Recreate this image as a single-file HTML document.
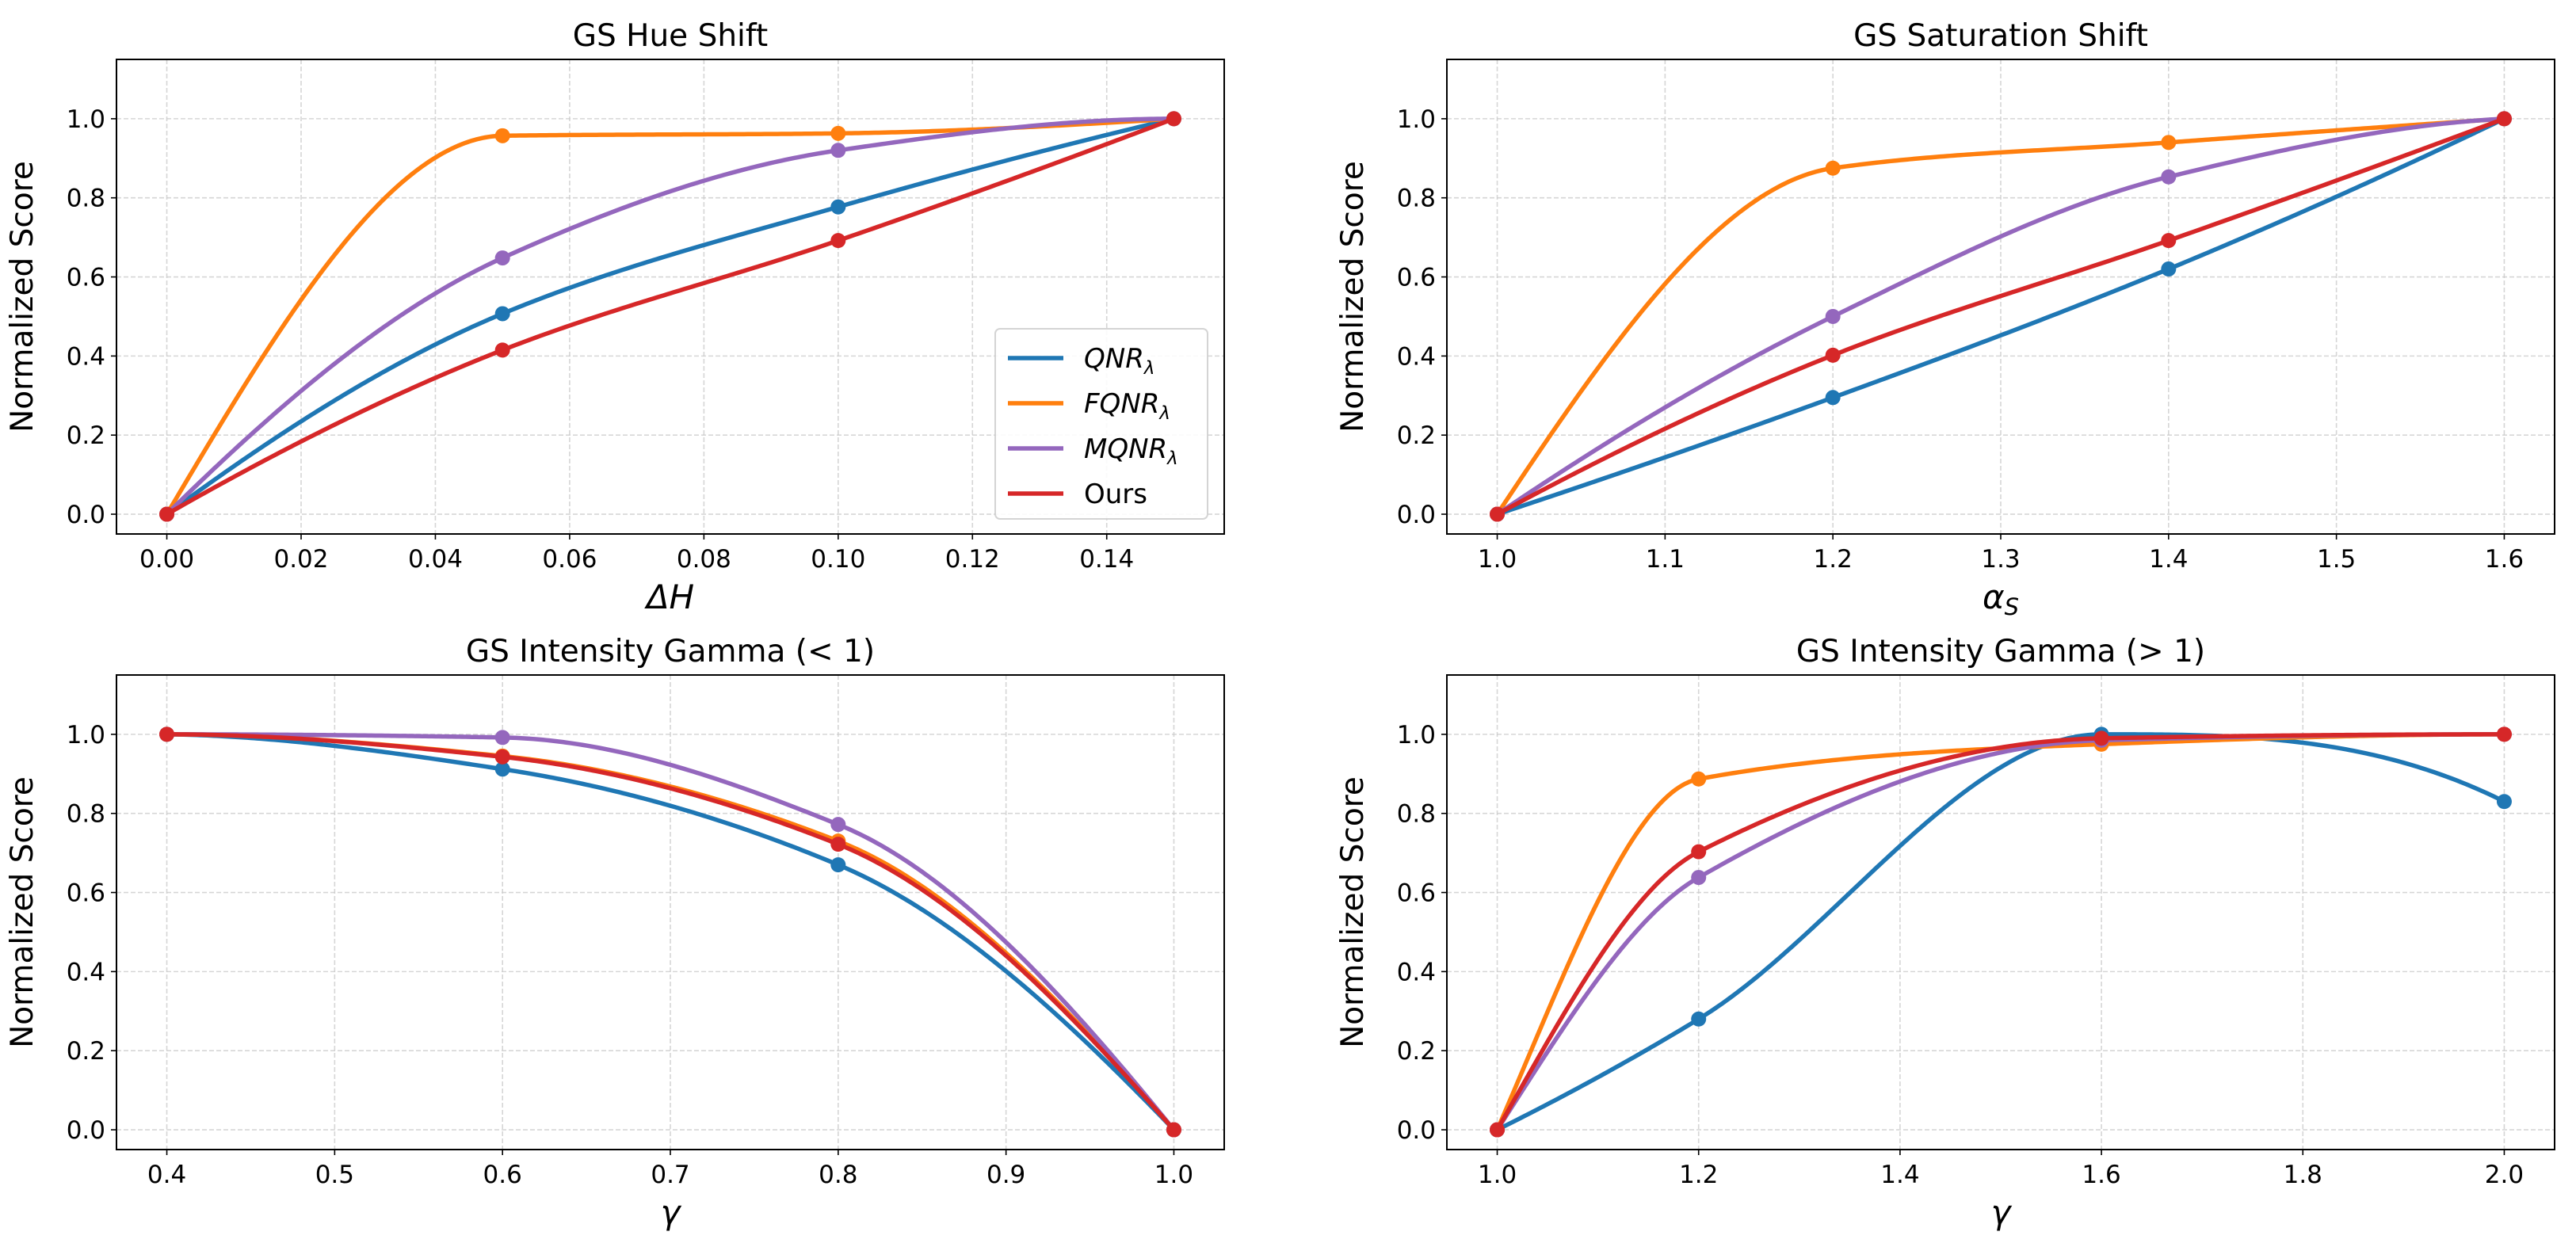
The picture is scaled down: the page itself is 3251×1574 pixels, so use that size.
<!DOCTYPE html>
<html><head><meta charset="utf-8"><style>
html,body{margin:0;padding:0;background:#fff}
svg{display:block}
text{font-family:"DejaVu Sans","Liberation Sans",sans-serif;fill:#000}
</style></head><body>
<svg id="fig" width="3251" height="1574" viewBox="0 0 3251 1574" xmlns="http://www.w3.org/2000/svg"></svg>
<script>
const seriesNames = ["QNR", "FQNR", "MQNR", "Ours"];
const seriesColors = ["#1f77b4", "#ff7f0e", "#9467bd", "#d62728"];
const hueX = [0, 0.05, 0.10, 0.15];
const hueQNR = [0, 0.507, 0.777, 1];
const hueFQNR = [0, 0.957, 0.963, 1];
const hueMQNR = [0, 0.648, 0.920, 1];
const hueOurs = [0, 0.415, 0.692, 1];
const satX = [1.0, 1.2, 1.4, 1.6];
const satQNR = [0, 0.295, 0.620, 1];
const satFQNR = [0, 0.875, 0.940, 1];
const satMQNR = [0, 0.500, 0.853, 1];
const satOurs = [0, 0.402, 0.692, 1];
const gLowX = [0.4, 0.6, 0.8, 1.0];
const gLowQNR = [1, 0.912, 0.670, 0];
const gLowFQNR = [1, 0.945, 0.730, 0];
const gLowMQNR = [1, 0.992, 0.772, 0];
const gLowOurs = [1, 0.943, 0.722, 0];
const gHighX = [1.0, 1.2, 1.6, 2.0];
const gHighQNR = [0, 0.280, 1.000, 0.830];
const gHighFQNR = [0, 0.887, 0.975, 1];
const gHighMQNR = [0, 0.638, 0.985, 1];
const gHighOurs = [0, 0.703, 0.990, 1];
const hueTicks = ["0.00","0.02","0.04","0.06","0.08","0.10","0.12","0.14"];
const satTicks = ["1.0","1.1","1.2","1.3","1.4","1.5","1.6"];
const gLowTicks = ["0.4","0.5","0.6","0.7","0.8","0.9","1.0"];
const gHighTicks = ["1.0","1.2","1.4","1.6","1.8","2.0"];
const yTicks = ["0.0","0.2","0.4","0.6","0.8","1.0"];

const NS = "http://www.w3.org/2000/svg";
const fig = document.getElementById("fig");
function mk(tag, attrs, parent) {
  const e = document.createElementNS(NS, tag);
  for (const k in attrs) e.setAttribute(k, attrs[k]);
  (parent || fig).appendChild(e);
  return e;
}
function pchip(x, y) {
  const n = x.length, h = [], d = [], m = new Array(n).fill(0);
  for (let i = 0; i < n - 1; i++) { h.push(x[i+1]-x[i]); d.push((y[i+1]-y[i])/h[i]); }
  for (let i = 1; i < n - 1; i++) {
    if (d[i-1]*d[i] <= 0) m[i] = 0;
    else { const w1 = 2*h[i]+h[i-1], w2 = h[i]+2*h[i-1]; m[i] = (w1+w2)/(w1/d[i-1]+w2/d[i]); }
  }
  function endSlope(h0,h1,d0,d1){ let s=((2*h0+h1)*d0-h0*d1)/(h0+h1);
    if (Math.sign(s)!==Math.sign(d0)) s=0; else if (Math.sign(d0)!==Math.sign(d1) && Math.abs(s)>Math.abs(3*d0)) s=3*d0; return s; }
  m[0] = endSlope(h[0],h[1],d[0],d[1]);
  m[n-1] = endSlope(h[n-2],h[n-3],d[n-2],d[n-3]);
  return function(t) {
    let i = 0; while (i < n - 2 && t > x[i+1]) i++;
    const hh = h[i], s = (t - x[i]) / hh;
    const h00 = 2*s*s*s-3*s*s+1, h10 = s*s*s-2*s*s+s, h01 = -2*s*s*s+3*s*s, h11 = s*s*s-s*s;
    return h00*y[i]+h10*hh*m[i]+h01*y[i+1]+h11*hh*m[i+1];
  };
}
function panel(cfg) {
  const g = mk("g", {});
  
  
  const L = cfg.L, R = cfg.R, T = cfg.T, B = cfg.B;
  const xr = cfg.xmax - cfg.xmin, xlo = cfg.xmin - 0.05*xr, xhi = cfg.xmax + 0.05*xr;
  const sx = v => L + (v - xlo) / (xhi - xlo) * (R - L);
  const sy = v => B - (v + 0.05) / 1.2 * (B - T);
  const gridG = mk("g", {}, g);
  
  
  cfg.xticks.forEach(t => {
    const X = sx(parseFloat(t));
    mk("line", {x1:X,x2:X,y1:T,y2:B,stroke:"#cccccc","stroke-width":1.6,"stroke-dasharray":"6,3",opacity:0.8}, gridG);
    mk("line", {x1:X,x2:X,y1:B,y2:B+7,stroke:"#000","stroke-width":1.6}, g);
    const tx = mk("text", {x:X,y:B+42,"font-size":31,"text-anchor":"middle"}, g);
    tx.textContent = t;
    
    
  });
  yTicks.forEach(t => {
    const Y = sy(parseFloat(t));
    mk("line", {x1:L,x2:R,y1:Y,y2:Y,stroke:"#cccccc","stroke-width":1.6,"stroke-dasharray":"6,3",opacity:0.8}, gridG);
    mk("line", {x1:L-7,x2:L,y1:Y,y2:Y,stroke:"#000","stroke-width":1.6}, g);
    const tx = mk("text", {x:L-14,y:Y+11,"font-size":31,"text-anchor":"end"}, g);
    tx.textContent = t;
    
    
  });
  cfg.series.forEach((ys, k) => {
    const f = pchip(cfg.x, ys);
    let d = "";
    for (let i = 0; i <= 300; i++) {
      const t = cfg.x[0] + (cfg.x[cfg.x.length-1]-cfg.x[0]) * i / 300;
      d += (i ? "L" : "M") + sx(t).toFixed(2) + "," + sy(f(t)).toFixed(2);
    }
    const p = mk("path", {d:d,fill:"none",stroke:seriesColors[k],"stroke-width":5.5,"stroke-linejoin":"round"}, g);
    
    
    cfg.x.forEach((xv, i) => {
      const c = mk("circle", {cx:sx(xv),cy:sy(ys[i]),r:9.5,fill:seriesColors[k]}, g);
      
      
    });
  });
  const frame = mk("rect", {x:L,y:T,width:R-L,height:B-T,fill:"none",stroke:"#000","stroke-width":2}, g);
  
  
  const title = mk("text", {x:(L+R)/2,y:T-17,"font-size":39,"text-anchor":"middle"}, g);
  title.textContent = cfg.title;
  
  
  const yl = mk("text", {x:0,y:0,"font-size":39,"text-anchor":"middle",transform:`translate(${L-106},${(T+B)/2}) rotate(-90)`}, g);
  yl.textContent = "Normalized Score";
  
  
  const xl = mk("text", {x:(L+R)/2,y:B+94,"font-size":42,"text-anchor":"middle","font-style":"italic"}, g);
  xl.innerHTML = cfg.xlabel;
  
  
  return {sx, sy};
}
panel({name:"panel-hue-shift",title:"GS Hue Shift",xlabel:"ΔH",L:147,R:1545,T:75,B:674,xmin:0,xmax:0.15,xticks:hueTicks,x:hueX,series:[hueQNR,hueFQNR,hueMQNR,hueOurs]});
panel({name:"panel-saturation-shift",title:"GS Saturation Shift",xlabel:'α<tspan font-size="29" dy="8">S</tspan>',L:1826,R:3224,T:75,B:674,xmin:1.0,xmax:1.6,xticks:satTicks,x:satX,series:[satQNR,satFQNR,satMQNR,satOurs]});
panel({name:"panel-gamma-low",title:"GS Intensity Gamma (< 1)",xlabel:"γ",L:147,R:1545,T:852,B:1451,xmin:0.4,xmax:1.0,xticks:gLowTicks,x:gLowX,series:[gLowQNR,gLowFQNR,gLowMQNR,gLowOurs]});
panel({name:"panel-gamma-high",title:"GS Intensity Gamma (> 1)",xlabel:"γ",L:1826,R:3224,T:852,B:1451,xmin:1.0,xmax:2.0,xticks:gHighTicks,x:gHighX,series:[gHighQNR,gHighFQNR,gHighMQNR,gHighOurs]});

const lg = mk("g", {});


mk("rect", {x:1256,y:415,width:268,height:240,rx:6,fill:"#fff",stroke:"#d0d0d0","stroke-width":2,opacity:0.9}, lg);
const legLabels = ['QNR<tspan font-size="23" dy="8">λ</tspan>','FQNR<tspan font-size="23" dy="8">λ</tspan>','MQNR<tspan font-size="23" dy="8">λ</tspan>','Ours'];
legLabels.forEach((lab, k) => {
  const Y = 452 + k * 57;
  const e = mk("g", {}, lg);
  
  
  mk("line", {x1:1272,x2:1342,y1:Y,y2:Y,stroke:seriesColors[k],"stroke-width":5.5}, e);
  const t = mk("text", {x:1368,y:Y+12,"font-size":34,"font-style":k<3?"italic":"normal"}, e);
  t.innerHTML = lab;
});
</script>
</body></html>
